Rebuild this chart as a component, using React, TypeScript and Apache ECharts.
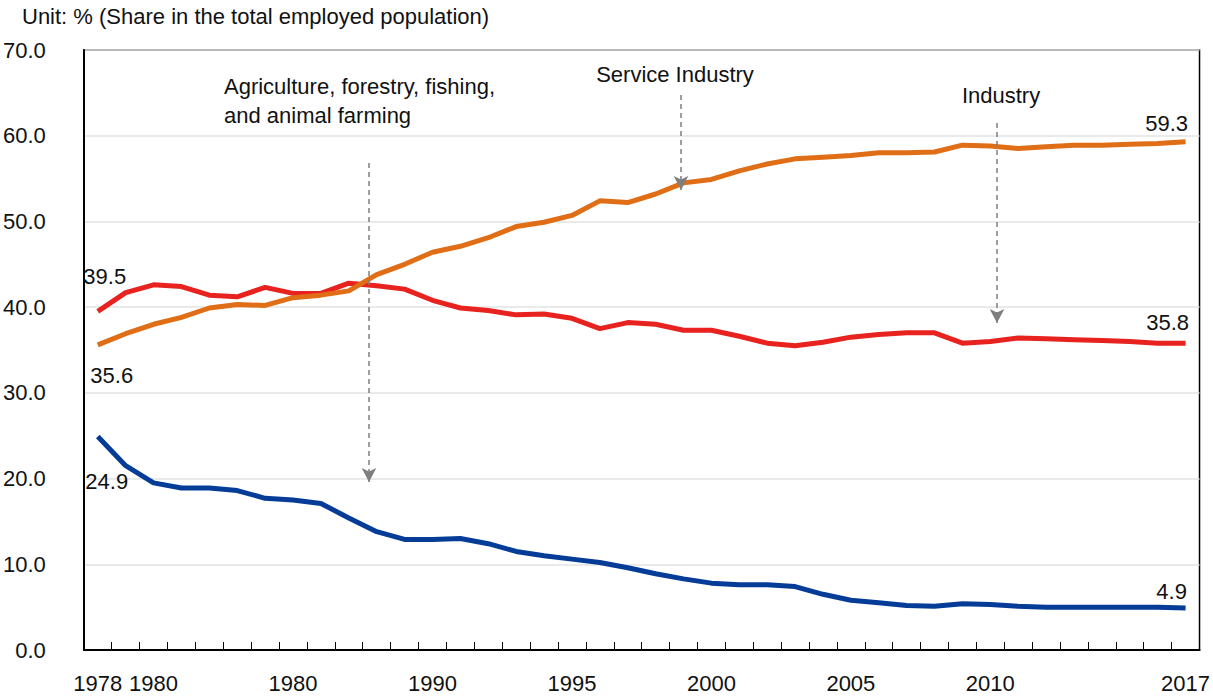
import React, { useEffect, useRef } from "react";
import * as echarts from "echarts";

const years = [
  "1978", "1979", "1980", "1981", "1982", "1983", "1984", "1985", "1986", "1987",
  "1988", "1989", "1990", "1991", "1992", "1993", "1994", "1995", "1996", "1997",
  "1998", "1999", "2000", "2001", "2002", "2003", "2004", "2005", "2006", "2007",
  "2008", "2009", "2010", "2011", "2012", "2013", "2014", "2015", "2016", "2017",
];

// tick labels exactly as printed in the source (the 1985 position reads "1980")
const tickLabels: Record<string, string> = {
  "1978": "1978",
  "1980": "1980",
  "1985": "1980",
  "1990": "1990",
  "1995": "1995",
  "2000": "2000",
  "2005": "2005",
  "2010": "2010",
  "2017": "2017",
};

const serviceShare = [
  35.6, 36.9, 38.0, 38.8, 39.9, 40.3, 40.2, 41.1, 41.4, 41.9,
  43.8, 45.0, 46.4, 47.1, 48.1, 49.4, 49.9, 50.7, 52.4, 52.2,
  53.2, 54.5, 54.9, 55.9, 56.7, 57.3, 57.5, 57.7, 58.0, 58.0,
  58.1, 58.9, 58.8, 58.5, 58.7, 58.9, 58.9, 59.0, 59.1, 59.3,
];

const industryShare = [
  39.5, 41.7, 42.6, 42.4, 41.4, 41.2, 42.3, 41.6, 41.6, 42.8,
  42.5, 42.1, 40.8, 39.9, 39.6, 39.1, 39.2, 38.7, 37.5, 38.2,
  38.0, 37.3, 37.3, 36.6, 35.8, 35.5, 35.9, 36.5, 36.8, 37.0,
  37.0, 35.8, 36.0, 36.4, 36.3, 36.2, 36.1, 36.0, 35.8, 35.8,
];

const agricultureShare = [
  24.9, 21.5, 19.5, 18.9, 18.9, 18.6, 17.7, 17.5, 17.1, 15.4,
  13.8, 12.9, 12.9, 13.0, 12.4, 11.5, 11.0, 10.6, 10.2, 9.6,
  8.9, 8.3, 7.8, 7.6, 7.6, 7.4, 6.5, 5.8, 5.5, 5.2,
  5.1, 5.4, 5.3, 5.1, 5.0, 5.0, 5.0, 5.0, 5.0, 4.9,
];

const unitText = "Unit: % (Share in the total employed population)";
const agricultureNote = "Agriculture, forestry, fishing,\nand animal farming";
const serviceNote = "Service Industry";
const industryNote = "Industry";

const FONT = "'Liberation Sans', Arial, Helvetica, sans-serif";
const FS = 22;
const TEXT = "#111111";

function withEndLabels(
  values: number[],
  firstOffset: [number, number],
  lastOffset: [number, number]
) {
  return values.map((v, i) => {
    if (i === 0 || i === values.length - 1) {
      return {
        value: v,
        label: {
          show: true,
          position: "inside",
          offset: i === 0 ? firstOffset : lastOffset,
          formatter: (p: any) => Number(p.value).toFixed(1),
          color: TEXT,
          fontSize: FS,
          fontFamily: FONT,
        },
      };
    }
    return { value: v };
  });
}

export default function App() {
  const ref = useRef<HTMLDivElement>(null);

  useEffect(() => {
    if (!ref.current) return;
    const chart = echarts.init(ref.current, undefined, { renderer: "svg" });

    const arrowStyle = {
      color: "#7f7f7f",
      width: 1.5,
      type: [5, 4] as any,
    };

    chart.setOption({
      animation: false,
      backgroundColor: "#ffffff",
      textStyle: { fontFamily: FONT },
      grid: {
        left: 83,
        right: 10,
        top: 50,
        bottom: 46,
        show: true,
        borderColor: "#000000",
        borderWidth: 1.5,
        containLabel: false,
      },
      xAxis: {
        type: "category",
        data: years,
        boundaryGap: true,
        axisLine: { show: true, lineStyle: { color: "#000000", width: 2 } },
        axisTick: {
          show: true,
          inside: true,
          length: 8,
          interval: 0,
          lineStyle: { color: "#000000", width: 1 },
        },
        axisLabel: {
          interval: (_i: number, v: string) => tickLabels[v] !== undefined,
          formatter: (v: string) => tickLabels[v] ?? "",
          color: TEXT,
          fontSize: FS,
          fontFamily: FONT,
          margin: 22,
        },
        splitLine: { show: false },
      },
      yAxis: {
        type: "value",
        min: 0,
        max: 70,
        interval: 10,
        axisLine: { show: true, lineStyle: { color: "#000000", width: 2 } },
        axisTick: { show: false },
        axisLabel: {
          formatter: (v: number) => v.toFixed(1),
          color: TEXT,
          fontSize: FS,
          fontFamily: FONT,
          margin: 38,
        },
        splitLine: { show: true, lineStyle: { color: "#e3e3e3", width: 1.5 } },
      },
      series: [
        {
          name: "Service Industry",
          type: "line",
          data: withEndLabels(serviceShare, [14, 31], [-19, -18]),
          showSymbol: true,
          symbol: "circle",
          symbolSize: 0,
          lineStyle: { color: "#E06E17", width: 5 },
          itemStyle: { color: "#E06E17" },
          z: 3,
        },
        {
          name: "Industry",
          type: "line",
          data: withEndLabels(industryShare, [7, -35], [-18, -21]),
          showSymbol: true,
          symbol: "circle",
          symbolSize: 0,
          lineStyle: { color: "#E8221E", width: 5 },
          itemStyle: { color: "#E8221E" },
          z: 2,
        },
        {
          name: "Agriculture, forestry, fishing, and animal farming",
          type: "line",
          data: withEndLabels(agricultureShare, [9, 45], [-14, -17]),
          showSymbol: true,
          symbol: "circle",
          symbolSize: 0,
          lineStyle: { color: "#043C98", width: 5 },
          itemStyle: { color: "#043C98" },
          z: 2,
          markLine: {
            silent: true,
            symbol: ["none", "arrow"],
            symbolSize: [11, 14],
            label: { show: false },
            lineStyle: arrowStyle,
            data: [
              [{ x: 369, y: 163 }, { x: 369, y: 482 }],
              [{ x: 681, y: 95 }, { x: 681, y: 190 }],
              [{ x: 997, y: 123 }, { x: 997, y: 323 }],
            ],
          },
        },
      ],
      graphic: [
        {
          type: "text",
          x: 22,
          y: 16,
          style: {
            text: unitText,
            font: `${FS}px ${FONT}`,
            fill: TEXT,
            verticalAlign: "middle",
          },
        },
        {
          type: "text",
          x: 224,
          y: 71.5,
          style: {
            text: agricultureNote,
            font: `${FS}px ${FONT}`,
            lineHeight: 29,
            fill: TEXT,
          },
        },
        {
          type: "text",
          x: 675,
          y: 74,
          style: {
            text: serviceNote,
            font: `${FS}px ${FONT}`,
            fill: TEXT,
            align: "center",
            verticalAlign: "middle",
          },
        },
        {
          type: "text",
          x: 1001,
          y: 95,
          style: {
            text: industryNote,
            font: `${FS}px ${FONT}`,
            fill: TEXT,
            align: "center",
            verticalAlign: "middle",
          },
        },
      ],
    });

    return () => chart.dispose();
  }, []);

  return (
    <div
      ref={ref}
      style={{ position: "absolute", left: 0, top: 0, width: 1213, height: 696 }}
    />
  );
}
